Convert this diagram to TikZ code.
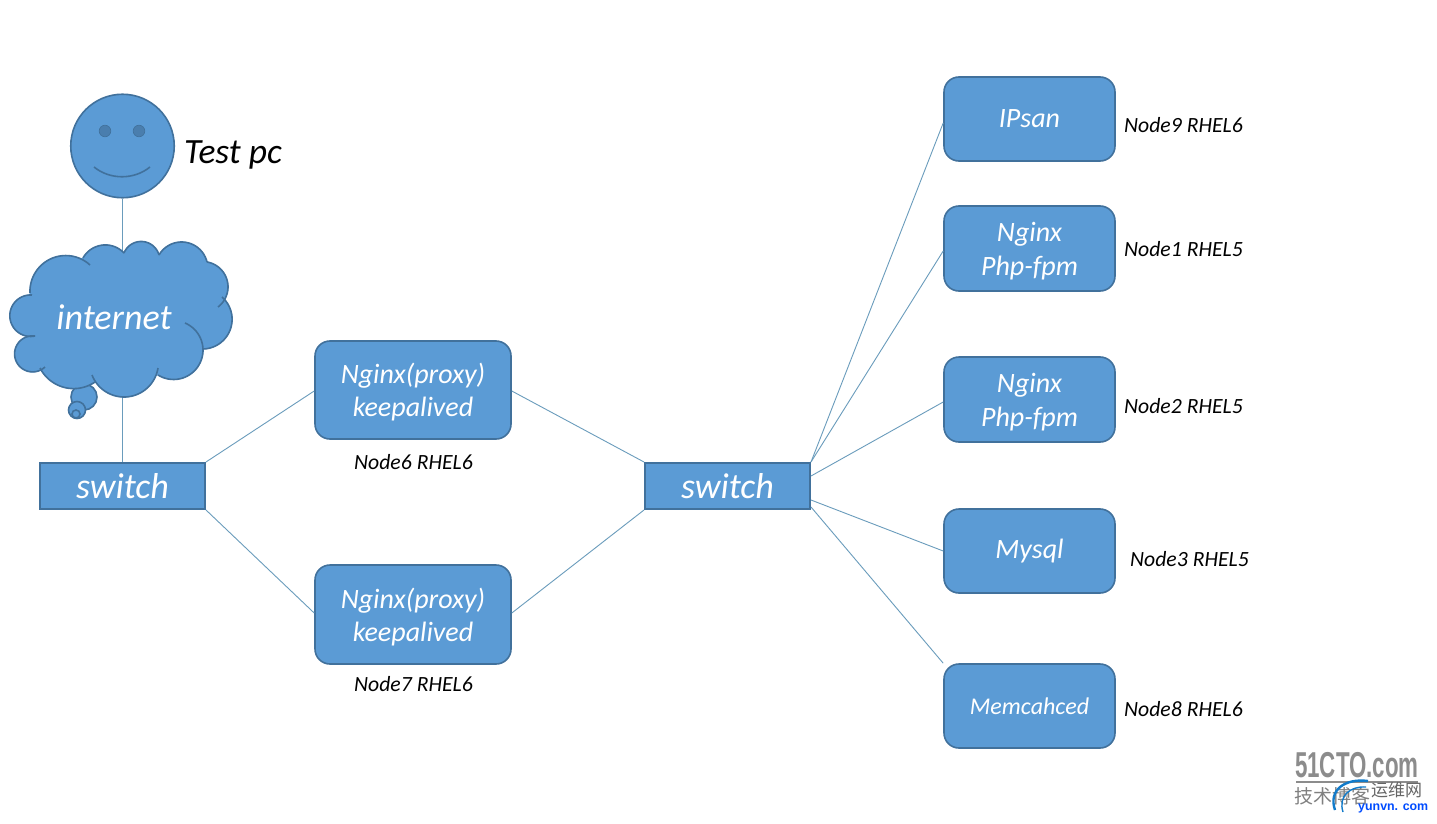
\documentclass[tikz,border=0pt]{standalone}
\usepackage{fontspec}
\setmainfont{Carlito}
\newfontfamily\cjkf{Noto Sans CJK SC}
\newfontfamily\heavyf{Liberation Sans}
\definecolor{fillblue}{HTML}{5B9BD5}
\definecolor{edgeblue}{HTML}{41719C}
\definecolor{linkblue}{HTML}{6A9CBC}
\definecolor{eyeblue}{HTML}{4A7EAE}
\newcommand{\fs}[1]{\fontsize{#1}{#1}\selectfont}
\newcommand{\lift}{\rule{0pt}{25pt}}
\newcommand{\lobecalc}{%
  \pgfmathsetmacro{\px}{(\tx-\ax)/10}\pgfmathsetmacro{\py}{(\ty-\ay)/10}%
  \pgfmathsetmacro{\qx}{(\bx-\ax)/10}\pgfmathsetmacro{\qy}{(\by-\ay)/10}%
  \pgfmathsetmacro{\dd}{2*(\px*\qy-\py*\qx)}%
  \pgfmathsetmacro{\pp}{\px*\px+\py*\py}\pgfmathsetmacro{\qq}{\qx*\qx+\qy*\qy}%
  \pgfmathsetmacro{\ux}{(\qy*\pp-\py*\qq)/\dd}%
  \pgfmathsetmacro{\uy}{(\px*\qq-\qx*\pp)/\dd}%
  \pgfmathsetmacro{\cx}{\ax+10*\ux}\pgfmathsetmacro{\cy}{\ay+10*\uy}%
  \pgfmathsetmacro{\rr}{10*sqrt(\ux*\ux+\uy*\uy)}%
  \pgfmathsetmacro{\aone}{atan2(\ay-\cy,\ax-\cx)}%
  \pgfmathsetmacro{\atwo}{atan2(\by-\cy,\bx-\cx)}%
  \pgfmathsetmacro{\atwo}{\atwo<\aone?\atwo+360:\atwo}%
}
\tikzset{
  x=1pt,y=-1pt,
  rbox/.style={draw=edgeblue,fill=fillblue,line width=1.6pt,rounded corners=15pt,inner sep=0pt,align=center,text=white,font=\fs{28}\itshape},
  sbox/.style={draw=edgeblue,fill=fillblue,line width=2pt,inner sep=0pt,text=white,font=\fs{36}\itshape},
  link/.style={draw=linkblue,line width=0.9pt},
  tag/.style={inner sep=0pt,text=black,font=\fs{21.7}\itshape},
  cloudedge/.style={draw=edgeblue,line width=1.6pt},
}
\begin{document}
\begin{tikzpicture}
\useasboundingbox (0,0) rectangle (1437,824);
\fill[white] (0,0) rectangle (1437,824);

% anchors of the cloud
\coordinate (cloudtop) at (122.5,252);
\coordinate (cloudbot) at (122.5,397);

% nodes
\node[circle,draw=edgeblue,fill=fillblue,line width=1.6pt,minimum size=103.5pt,inner sep=0pt] (face) at (122.5,146) {};
\node[sbox,minimum width=165pt,minimum height=46pt] (sw1) at (122.5,486) {\raisebox{-2.5pt}{switch}};
\node[sbox,minimum width=165pt,minimum height=46pt] (sw2) at (727.5,486) {\raisebox{-2.5pt}{switch}};
\node[rbox,minimum width=196pt,minimum height=98pt] (px1) at (413,390) {\lift Nginx(proxy)\\[5.5pt]keepalived};
\node[rbox,minimum width=196pt,minimum height=99pt] (px2) at (413,614.5) {\lift Nginx(proxy)\\[5.5pt]keepalived};
\node[rbox,minimum width=171pt,minimum height=84pt] (ipsan) at (1029.5,119) {\raisebox{-2pt}{IPsan}};
\node[rbox,minimum width=171pt,minimum height=85pt] (ng1) at (1029.5,248.5) {\lift Nginx\\[5.5pt]Php-fpm};
\node[rbox,minimum width=171pt,minimum height=85pt] (ng2) at (1029.5,399.5) {\lift Nginx\\[5.5pt]Php-fpm};
\node[rbox,minimum width=171pt,minimum height=84pt] (mysql) at (1029.5,551) {\raisebox{-4pt}{Mysql}};
\node[rbox,minimum width=171pt,minimum height=84pt,font=\fs{24}\itshape] (mem) at (1029.5,706) {Memcahced};

% connectors
\draw[link] (face.south) -- (cloudtop);
\draw[link] (cloudbot) -- (sw1.north);
\draw[link] (sw1.north east) -- ([yshift=-1pt]px1.west);
\draw[link] (sw1.south east) -- ([yshift=1.5pt]px2.west);
\draw[link] ([yshift=-1pt]px1.east) -- (sw2.north west);
\draw[link] ([yshift=1.5pt]px2.east) -- (sw2.south west);
\draw[link] (sw2.north east) -- ([yshift=-4pt]ipsan.west);
\draw[link] (sw2.north east) -- ([yshift=-2.5pt]ng1.west);
\draw[link] ([yshift=10pt]sw2.east) -- ([yshift=-2.5pt]ng2.west);
\draw[link] ([yshift=-14pt]sw2.east) -- (mysql.west);
\draw[link] ([yshift=3pt]sw2.south east) -- (mem.north west);

% face details
\fill[eyeblue,draw=edgeblue,line width=0.6pt] (105,131) circle (5.8);
\fill[eyeblue,draw=edgeblue,line width=0.6pt] (139,131) circle (5.8);
\draw[cloudedge] (94,167) .. controls (110,180) and (134,180) .. (150,167);

% thought bubbles behind the cloud
\draw[cloudedge,fill=fillblue] (84,397) circle (13);
\draw[cloudedge,fill=fillblue] (77,410) circle (8.5);
\draw[cloudedge] (76,414) circle (4);

% cloud: every lobe is a circular arc through start, crest, end
\def\lobes{124/253/142/241.5/159/255,
 159/255/182/242/207/262,
 207/262/228/287/218/307,
 222/297/232/317/203/349,
 185/323/203/350/158/375,
 158/368/123/397/92/375,
 95/382/67/388/40/368,
 45/367/15/350/35/336,
 35/336/10/313/32/295,
 30/293/60/256/90/265,
 83/258/107/245/124/253}
\foreach \ax/\ay/\tx/\ty/\bx/\by in \lobes {
  \lobecalc
  \filldraw[fill=fillblue,draw=fillblue,line width=0.8pt] plot[variable=\t,domain=\aone:\atwo,samples=36] ({\cx+\rr*cos(\t)},{\cy+\rr*sin(\t)}) -- (120,318) -- cycle;
}
\filldraw[fill=fillblue,draw=fillblue,line width=0.8pt] (124,253) -- (159,255) -- (207,262) -- (222,297) -- (203,349) -- (158,375) -- (95,382) -- (92,375) -- (45,367) -- (40,368) -- (35,336) -- (32,295) -- (30,293) -- (83,258) -- (90,265) -- cycle;
\foreach \ax/\ay/\tx/\ty/\bx/\by in \lobes {
  \lobecalc
  \draw[cloudedge] plot[variable=\t,domain=\aone:\atwo,samples=36] ({\cx+\rr*cos(\t)},{\cy+\rr*sin(\t)});
}

% labels
\node[inner sep=0pt,text=white,font=\fs{36}\itshape] (inet) at (114,317) {internet};
\node[inner sep=0pt,anchor=west,text=black,font=\fs{35.5}\itshape] (testpc) at (184,155) {Test pc};
\node[tag,anchor=west] (t6) at (354,462) {Node6 RHEL6};
\node[tag,anchor=west] (t7) at (354,684) {Node7 RHEL6};
\node[tag,anchor=west] (t9) at (1124,125) {Node9 RHEL6};
\node[tag,anchor=west] (t1) at (1124,249) {Node1 RHEL5};
\node[tag,anchor=west] (t2) at (1124,406) {Node2 RHEL5};
\node[tag,anchor=west] (t3) at (1130,559) {Node3 RHEL5};
\node[tag,anchor=west] (t8) at (1124,709) {Node8 RHEL6};

% watermark
\node[inner sep=0pt,anchor=west,text=black!45,font=\heavyf\bfseries\fs{36},xscale=.62] (wm1) at (1295,765) {51CTO.com};
\fill[black!45] (1296,781) rectangle (1418,783);
\node[inner sep=0pt,anchor=west,text=black!50,font=\cjkf\fs{19}] (wm2) at (1294,796) {技术博客};
\node[inner sep=0pt,anchor=west,text=black!60,font=\cjkf\fs{17}] (wm3) at (1371,790) {运维网};
\draw[cyan!60!blue,line width=2.4pt] (1335,810) .. controls (1328,790) and (1345,778) .. (1368,781);
\draw[cyan!60!blue,line width=1.4pt] (1343,812) .. controls (1338,796) and (1350,786) .. (1366,787);
\node[inner sep=0pt,anchor=west,text=blue!70!cyan,font=\heavyf\bfseries\fs{12.4}] (wm4) at (1358,808) {yunvn. com};
\end{tikzpicture}
\end{document}
